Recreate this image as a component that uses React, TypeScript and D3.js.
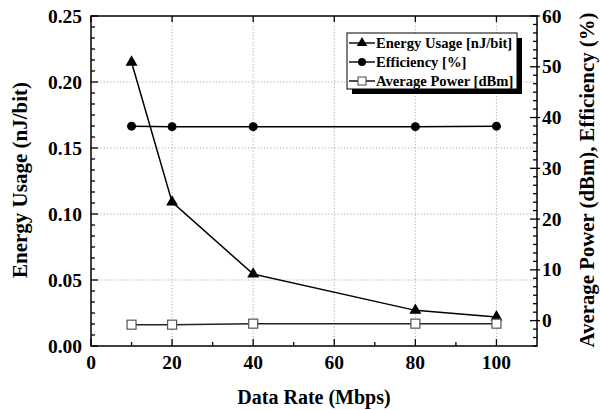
import * as d3 from "d3";

// data rate (Mbps) on the x axis
const rates = [10, 20, 40, 80, 100];
const energy = [0.215, 0.109, 0.0545, 0.027, 0.022]; // nJ/bit, left axis
const efficiency = [38.3, 38.2, 38.2, 38.2, 38.3]; // %, right axis
const avgPower = [-0.8, -0.8, -0.6, -0.6, -0.6]; // dBm, right axis

const xTicks = [0, 20, 40, 60, 80, 100];
const leftTicks = [0, 0.05, 0.1, 0.15, 0.2, 0.25];
const rightTicks = [0, 10, 20, 30, 40, 50, 60];
const legendItems = ["Energy Usage [nJ/bit]", "Efficiency [%]", "Average Power [dBm]"];

const W = 600;
const H = 410;
const plot = { left: 91, right: 537, top: 16, bottom: 346 };
const font = "'Liberation Serif', 'Times New Roman', serif";

export default function App() {
  const x = d3.scaleLinear().domain([0, 110]).range([plot.left, plot.right]);
  const yL = d3.scaleLinear().domain([0, 0.25]).range([plot.bottom, plot.top]);
  const yR = d3.scaleLinear().domain([-5, 60]).range([plot.bottom, plot.top]);

  const energyPts: [number, number][] = rates.map((r, i) => [x(r), yL(energy[i])]);
  const effPts: [number, number][] = rates.map((r, i) => [x(r), yR(efficiency[i])]);
  const powPts: [number, number][] = rates.map((r, i) => [x(r), yR(avgPower[i])]);
  const line = d3.line();

  const tri = d3.symbol(d3.symbolTriangle, 62)();
  const triSmall = d3.symbol(d3.symbolTriangle, 48)();

  // minor ticks: 5 between each pair of majors on the y axes, 1 on x
  const minorL = d3.range(0, 0.25, 0.05 / 6).filter((v) => Math.abs(v / 0.05 - Math.round(v / 0.05)) > 1e-6);
  const minorR = d3.range(-5, 60, 10 / 6).filter((v) => Math.abs(v / 10 - Math.round(v / 10)) > 1e-6);
  const minorX = d3.range(10, 110, 20);

  const lg = { x: 347, y: 33, w: 170, h: 56 };
  const midY = 180;

  return (
    <svg
      width={W}
      height={H}
      style={{ position: "absolute", left: 0, top: 0, background: "#fff" }}
      fontFamily={font}
      fontWeight="bold"
    >
      {/* grid */}
      <g stroke="#9a9a9a" strokeWidth={0.8} strokeDasharray="1.2,2">
        {xTicks.slice(1).map((t) => (
          <line key={"gx" + t} x1={x(t)} x2={x(t)} y1={plot.top} y2={plot.bottom} />
        ))}
        {leftTicks.slice(1, -1).map((t) => (
          <line key={"gy" + t} x1={plot.left} x2={plot.right} y1={yL(t)} y2={yL(t)} />
        ))}
      </g>

      {/* series */}
      <path d={line(energyPts) ?? ""} fill="none" stroke="#000" strokeWidth={1.5} />
      <path d={line(effPts) ?? ""} fill="none" stroke="#000" strokeWidth={1.5} />
      <path d={line(powPts) ?? ""} fill="none" stroke="#222" strokeWidth={1.5} />
      {energyPts.map(([px, py], i) => (
        <path key={"e" + i} d={tri ?? ""} transform={`translate(${px},${py})`} fill="#000" />
      ))}
      {effPts.map(([px, py], i) => (
        <circle key={"c" + i} cx={px} cy={py} r={4.5} fill="#000" />
      ))}
      {powPts.map(([px, py], i) => (
        <rect key={"p" + i} x={px - 4.5} y={py - 4.5} width={9} height={9} fill="#fff" stroke="#555" strokeWidth={1.2} />
      ))}

      {/* frame */}
      <rect
        x={plot.left}
        y={plot.top}
        width={plot.right - plot.left}
        height={plot.bottom - plot.top}
        fill="none"
        stroke="#000"
        strokeWidth={1.5}
      />

      {/* ticks */}
      <g stroke="#000" strokeWidth={1.3}>
        {xTicks.map((t) => (
          <g key={"xt" + t}>
            <line x1={x(t)} x2={x(t)} y1={plot.bottom} y2={plot.bottom - 7} />
            <line x1={x(t)} x2={x(t)} y1={plot.top} y2={plot.top + 6} />
          </g>
        ))}
        {minorX.map((t) => (
          <line key={"xm" + t} x1={x(t)} x2={x(t)} y1={plot.bottom} y2={plot.bottom - 4} />
        ))}
        {leftTicks.map((t) => (
          <line key={"lt" + t} x1={plot.left} x2={plot.left + 7} y1={yL(t)} y2={yL(t)} />
        ))}
        {minorL.map((t, i) => (
          <line key={"lm" + i} x1={plot.left} x2={plot.left + 4} y1={yL(t)} y2={yL(t)} />
        ))}
        {rightTicks.map((t) => (
          <line key={"rt" + t} x1={plot.right - 7} x2={plot.right + 3} y1={yR(t)} y2={yR(t)} />
        ))}
        {minorR.map((t, i) => (
          <line key={"rm" + i} x1={plot.right - 4} x2={plot.right} y1={yR(t)} y2={yR(t)} />
        ))}
      </g>

      {/* tick labels */}
      <g fontSize={19.5} fill="#000">
        {xTicks.map((t) => (
          <text key={"xl" + t} x={x(t)} y={369} textAnchor="middle">
            {t}
          </text>
        ))}
        {leftTicks.map((t) => (
          <text key={"ll" + t} x={82} y={yL(t) + 6.5} textAnchor="end">
            {d3.format(".2f")(t)}
          </text>
        ))}
        {rightTicks.map((t) => (
          <text key={"rl" + t} x={542} y={yR(t) + 6.5} textAnchor="start">
            {t}
          </text>
        ))}
      </g>

      {/* axis titles */}
      <text x={(plot.left + plot.right) / 2} y={404} textAnchor="middle" fontSize={20}>
        Data Rate (Mbps)
      </text>
      <text transform={`translate(27,${midY}) rotate(-90)`} textAnchor="middle" fontSize={21}>
        Energy Usage (nJ/bit)
      </text>
      <text transform={`translate(594,${midY}) rotate(-90)`} textAnchor="middle" fontSize={20.8}>
        Average Power (dBm), Efficiency (%)
      </text>

      {/* legend */}
      <rect x={lg.x + 5} y={lg.y + 5} width={lg.w} height={lg.h} fill="#000" />
      <rect x={lg.x} y={lg.y} width={lg.w} height={lg.h} fill="#fff" stroke="#000" strokeWidth={1} />
      {legendItems.map((name, i) => {
        const ly = lg.y + 10 + i * 19;
        return (
          <g key={name}>
            <line x1={lg.x + 2} x2={lg.x + 28} y1={ly} y2={ly} stroke="#000" strokeWidth={1.4} />
            {i === 0 && <path d={triSmall ?? ""} transform={`translate(${lg.x + 15},${ly})`} fill="#000" />}
            {i === 1 && <circle cx={lg.x + 15} cy={ly} r={4} fill="#000" />}
            {i === 2 && <rect x={lg.x + 11} y={ly - 4} width={8} height={8} fill="#fff" stroke="#555" strokeWidth={1.1} />}
            <text x={lg.x + 29} y={ly + 5} fontSize={14.6} fill="#000">
              {name}
            </text>
          </g>
        );
      })}
    </svg>
  );
}
